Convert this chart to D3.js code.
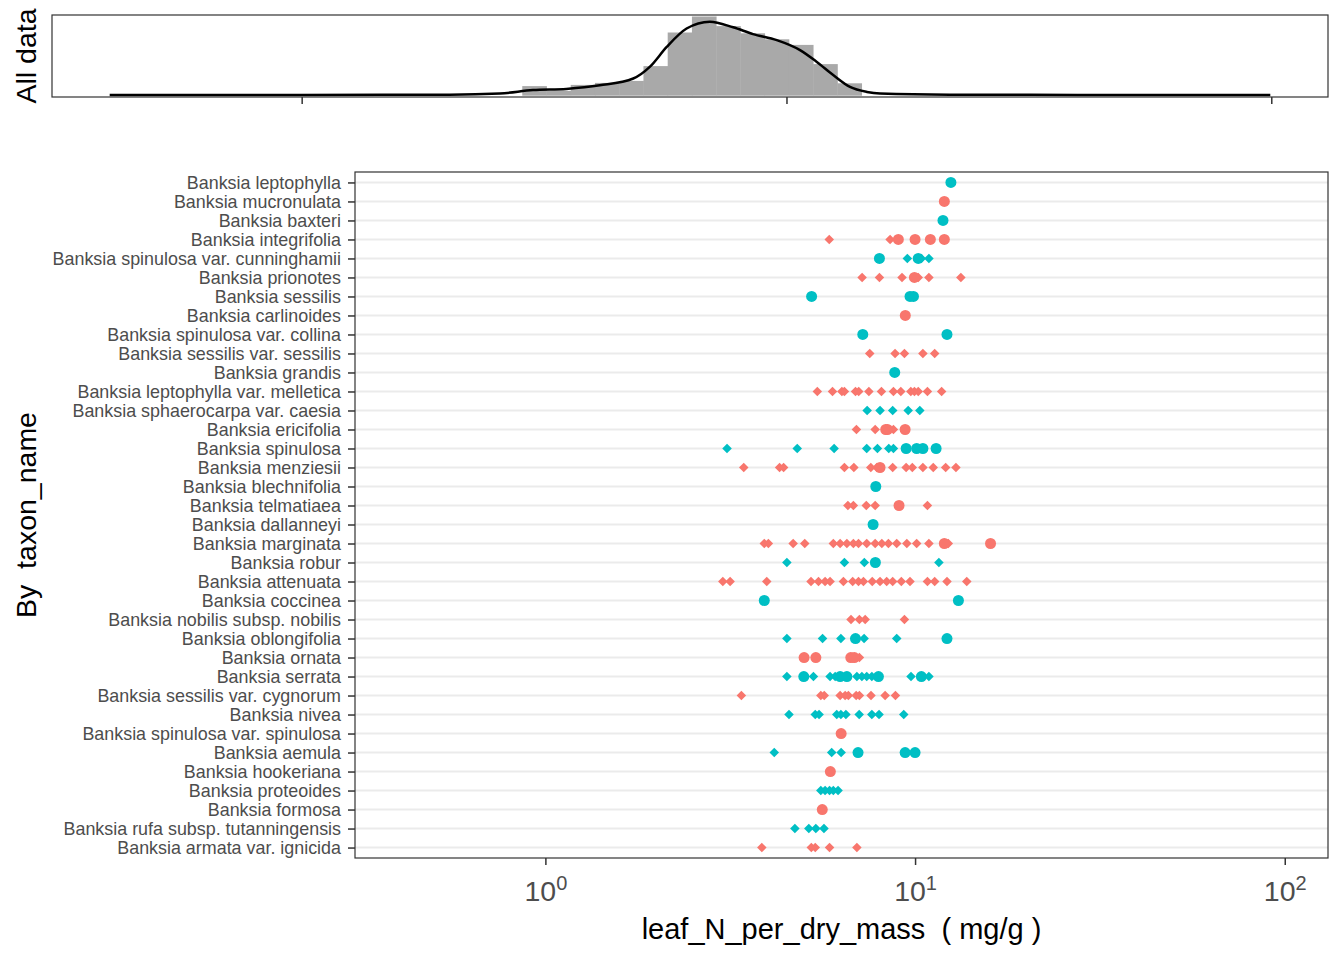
<!DOCTYPE html>
<html>
<head>
<meta charset="utf-8">
<script src="https://cdn.jsdelivr.net/npm/d3@7"></script>
<style>
  body { margin: 0; background: #fff; }
  svg text { font-family: "Liberation Sans", Arial, sans-serif; white-space: pre; }
</style>
</head>
<body>
<svg id="chart" width="1344" height="960"></svg>
<script>
// taxa, top to bottom
const taxa = ["Banksia leptophylla", "Banksia mucronulata", "Banksia baxteri", "Banksia integrifolia",
  "Banksia spinulosa var. cunninghamii", "Banksia prionotes", "Banksia sessilis", "Banksia carlinoides",
  "Banksia spinulosa var. collina", "Banksia sessilis var. sessilis", "Banksia grandis",
  "Banksia leptophylla var. melletica", "Banksia sphaerocarpa var. caesia", "Banksia ericifolia",
  "Banksia spinulosa", "Banksia menziesii", "Banksia blechnifolia", "Banksia telmatiaea",
  "Banksia dallanneyi", "Banksia marginata", "Banksia robur", "Banksia attenuata", "Banksia coccinea",
  "Banksia nobilis subsp. nobilis", "Banksia oblongifolia", "Banksia ornata", "Banksia serrata",
  "Banksia sessilis var. cygnorum", "Banksia nivea", "Banksia spinulosa var. spinulosa", "Banksia aemula",
  "Banksia hookeriana", "Banksia proteoides", "Banksia formosa", "Banksia rufa subsp. tutanningensis",
  "Banksia armata var. ignicida"];

// leaf N (mg/g), points drawn as circles
const circleVals = [
  [12.5], [12.0], [11.9], [9.01, 10.0, 11.0, 12.0], [8.01, 10.2], [9.96], [5.25, 9.69, 9.9], [9.41],
  [7.22, 12.2], [], [8.81], [], [], [8.33, 8.42, 9.40], [9.46, 10.1, 10.5, 11.4], [8.04], [7.83], [9.05],
  [7.70], [12.0, 16.0], [7.81], [], [3.91, 13.1], [], [6.90, 12.2], [5.01, 5.39, 6.70, 6.85],
  [5.00, 6.27, 6.54, 7.96, 10.4], [], [], [6.31], [7.01, 9.40, 10.0], [5.90], [], [5.61], [], []
];

// leaf N (mg/g), points drawn as diamonds
const diamondVals = [
  [], [], [], [5.86, 8.56], [9.53, 10.4, 10.9], [7.19, 8.01, 9.22, 10.2, 10.9, 13.3], [], [], [],
  [7.54, 8.83, 9.36, 10.5, 11.3], [],
  [5.44, 5.98, 6.34, 6.44, 6.90, 7.04, 7.50, 8.11, 8.74, 9.15, 9.74, 9.96, 10.2, 10.8, 11.8],
  [7.42, 8.04, 8.70, 9.58, 10.3], [6.94, 7.80, 8.74], [3.10, 4.80, 6.04, 7.40, 7.91, 8.49, 8.74],
  [3.44, 4.30, 4.41, 6.44, 6.83, 7.59, 7.88, 8.70, 9.46, 9.83, 10.5, 11.2, 12.1, 12.9], [],
  [6.58, 6.81, 7.38, 7.80, 10.8], [],
  [3.91, 4.01, 4.68, 5.03, 6.01, 6.27, 6.54, 6.81, 7.03, 7.40, 7.80, 8.13, 8.47, 8.92, 9.50, 10.1, 10.9, 12.3],
  [4.50, 6.44, 7.29, 11.6],
  [3.02, 3.16, 3.97, 5.23, 5.48, 5.71, 5.89, 6.40, 6.78, 7.03, 7.25, 7.66, 8.04, 8.38, 8.70, 9.18, 9.69, 10.8, 11.3, 12.2, 13.8],
  [], [6.71, 7.07, 7.33, 9.36], [4.50, 5.62, 6.30, 7.28, 8.92], [7.07],
  [4.50, 5.31, 5.89, 6.08, 6.96, 7.18, 7.40, 7.64, 9.75, 10.9],
  [3.39, 5.56, 5.68, 6.27, 6.47, 6.60, 6.93, 7.07, 7.60, 8.30, 8.85],
  [4.56, 5.37, 5.50, 6.14, 6.30, 6.50, 7.06, 7.64, 7.99, 9.32], [], [4.16, 5.95, 6.31], [],
  [5.56, 5.71, 5.87, 6.01, 6.19], [], [4.73, 5.16, 5.39, 5.67], [3.85, 5.24, 5.37, 5.87, 6.96]
];

// histogram of all data (log10 bins) and density curve
const binStart = 0.455;
const binWidth = 0.05;
const binDensity = [0.24, 0.12, 0.27, 0.32, 0.37, 0.74, 1.58, 1.98, 1.74, 1.56, 1.41, 1.27, 0.79, 0.31];
const densLog = [-0.396, 0.0, 0.305, 0.409, 0.477, 0.546, 0.615, 0.684, 0.718, 0.753, 0.794, 0.842, 0.890,
  0.931, 0.980, 1.028, 1.062, 1.097, 1.131, 1.166, 1.193, 1.337, 1.6, 1.998];
const densVal = [0.02, 0.02, 0.025, 0.055, 0.14, 0.17, 0.26, 0.43, 0.72, 1.22, 1.68, 1.85, 1.71,
  1.54, 1.39, 1.14, 0.85, 0.51, 0.22, 0.095, 0.055, 0.025, 0.02, 0.02];

const xTicks = [1, 10, 100];
const xDomain = [Math.pow(10, -0.515), Math.pow(10, 2.117)];

const red = "#F8766D", teal = "#00BFC4";
const svg = d3.select("#chart");

// ---- top panel: all data ----
const topP = {left: 52, right: 1328, top: 15, bottom: 97};
const xTop = d3.scaleLog().domain(xDomain).range([topP.left, topP.right]);
const yTop = d3.scaleLinear().domain([0, 2]).range([95.7, 15.7]);

const bins = binDensity.map((d, i) => ({x0: Math.pow(10, binStart + i * binWidth), x1: Math.pow(10, binStart + (i + 1) * binWidth), d: d}));

svg.append("g").selectAll("rect").data(bins).enter().append("rect")
  .attr("x", d => xTop(d.x0))
  .attr("width", d => xTop(d.x1) - xTop(d.x0) + 0.4)
  .attr("y", d => yTop(d.d))
  .attr("height", d => yTop(0) - yTop(d.d))
  .attr("fill", "#A9A9A9");

const dens = densLog.map((l, i) => ({v: Math.pow(10, l), d: densVal[i]}));
svg.append("path").datum(dens)
  .attr("d", d3.line().x(d => xTop(d.v)).y(d => yTop(d.d)).curve(d3.curveMonotoneX))
  .attr("fill", "none").attr("stroke", "#000").attr("stroke-width", 2.5);

svg.append("rect").attr("x", topP.left).attr("y", topP.top)
  .attr("width", topP.right - topP.left).attr("height", topP.bottom - topP.top)
  .attr("fill", "none").attr("stroke", "#333").attr("stroke-width", 1.2);

svg.append("g").attr("transform", `translate(0, ${topP.bottom})`)
  .call(d3.axisBottom(xTop).tickValues(xTicks).tickSize(7).tickFormat(""))
  .call(g => g.select(".domain").remove())
  .call(g => g.selectAll("line").attr("stroke", "#333").attr("stroke-width", 1.5));

svg.append("text").attr("transform", `translate(36, ${(topP.top + topP.bottom) / 2}) rotate(-90)`)
  .attr("text-anchor", "middle").attr("font-size", 28.5).attr("fill", "#000").text("All data");

// ---- bottom panel: by taxon ----
const botP = {left: 355, right: 1328, top: 172, bottom: 858};
const x = d3.scaleLog().domain(xDomain).range([botP.left, botP.right]);
const y = d3.scalePoint().domain(taxa).range([botP.top, botP.bottom]).padding(0.55);

svg.append("g").selectAll("line").data(taxa).enter().append("line")
  .attr("x1", botP.left).attr("x2", botP.right)
  .attr("y1", d => y(d)).attr("y2", d => y(d))
  .attr("stroke", "#EBEBEB").attr("stroke-width", 2);

const pts = [];
taxa.forEach((t, i) => {
  const col = i % 2 === 0 ? teal : red;
  diamondVals[i].forEach(v => pts.push({t: t, v: v, shape: "d", col: col}));
  circleVals[i].forEach(v => pts.push({t: t, v: v, shape: "c", col: col}));
});

const diamond = d3.symbol().type(d3.symbolDiamond2).size(58)();
svg.append("g").selectAll("path").data(pts.filter(p => p.shape === "d")).enter().append("path")
  .attr("d", diamond)
  .attr("transform", d => `translate(${x(d.v)}, ${y(d.t)})`)
  .attr("fill", d => d.col);

svg.append("g").selectAll("circle").data(pts.filter(p => p.shape === "c")).enter().append("circle")
  .attr("cx", d => x(d.v)).attr("cy", d => y(d.t)).attr("r", 5.5)
  .attr("fill", d => d.col);

svg.append("rect").attr("x", botP.left).attr("y", botP.top)
  .attr("width", botP.right - botP.left).attr("height", botP.bottom - botP.top)
  .attr("fill", "none").attr("stroke", "#333").attr("stroke-width", 1.2);

svg.append("g").attr("transform", `translate(${botP.left}, 0)`)
  .call(d3.axisLeft(y).tickSize(7).tickPadding(7))
  .call(g => g.select(".domain").remove())
  .call(g => g.selectAll("line").attr("stroke", "#333").attr("stroke-width", 1.5))
  .call(g => g.selectAll("text").attr("font-size", 17.9).attr("fill", "#4D4D4D")
    .attr("font-family", "Liberation Sans, Arial, sans-serif"));

const xAxis = svg.append("g").attr("transform", `translate(0, ${botP.bottom})`)
  .call(d3.axisBottom(x).tickValues(xTicks).tickSize(7).tickFormat(""))
  .call(g => g.select(".domain").remove())
  .call(g => g.selectAll("line").attr("stroke", "#333").attr("stroke-width", 1.5));

xAxis.selectAll(".tick").append("text")
  .attr("y", 43).attr("fill", "#4D4D4D").attr("text-anchor", "middle")
  .attr("font-family", "Liberation Sans, Arial, sans-serif")
  .each(function(d) {
    const t = d3.select(this);
    t.append("tspan").attr("font-size", 28.5).text("10");
    t.append("tspan").attr("font-size", 20).attr("dy", -11).text(Math.round(Math.log10(d)));
  });

svg.append("text").attr("x", (botP.left + botP.right) / 2).attr("y", 939)
  .attr("text-anchor", "middle").attr("font-size", 29).attr("fill", "#000")
  .text("leaf_N_per_dry_mass  ( mg/g )");

svg.append("text").attr("transform", `translate(36, ${(botP.top + botP.bottom) / 2}) rotate(-90)`)
  .attr("text-anchor", "middle").attr("font-size", 28.5).attr("fill", "#000")
  .text("By  taxon_name");
</script>
</body>
</html>
